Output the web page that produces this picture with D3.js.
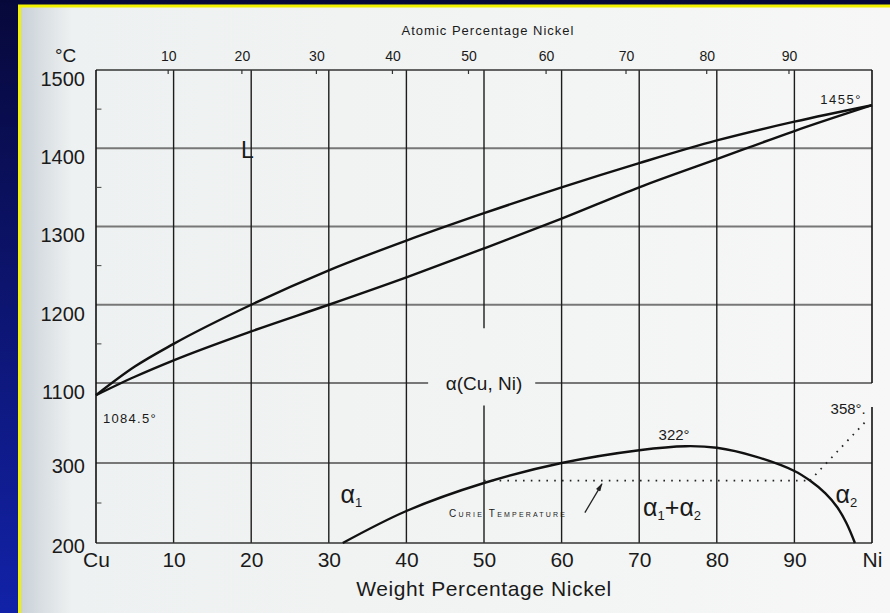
<!DOCTYPE html>
<html lang="en">
<head>
<meta charset="UTF-8">
<title>Cu-Ni phase diagram</title>
<script src="https://d3js.org/d3.v7.min.js"></script>
<style>
    body { margin: 0; background: #0a0d45; }
    svg { display: block; }
    .num { font-family: "Liberation Sans", Arial, sans-serif; fill: #1a1a1a; }
    .txt { font-family: "Liberation Sans", Arial, sans-serif; fill: #1a1a1a; }
    .axis path, .axis line { display: none; }
</style>
</head>
<body>
<div id="chart"></div>
<script>
// weight % Ni -> temperature (degC)
var liquidusWt = [0, 5, 10, 20, 30, 40, 50, 60, 70, 80, 90, 100];
var liquidusT  = [1084.5, 1121, 1150, 1200, 1244, 1282, 1317, 1350, 1381, 1410, 1434, 1455];
var solidusWt  = [0, 5, 10, 20, 30, 40, 50, 60, 70, 80, 90, 100];
var solidusT   = [1084.5, 1108, 1129, 1166, 1200, 1235, 1272, 1310, 1350, 1386, 1422, 1455];

// miscibility gap (alpha1 + alpha2)
var gapWt = [31.8, 40, 50, 60, 70, 76, 80, 85, 90, 92, 94, 95.5, 96.7, 97.8];
var gapT  = [200, 240, 275, 300, 316, 321, 319, 308, 290, 278, 262, 245, 225, 200];

// Curie temperature (dotted)
var curieWt = [50, 92];
var curieT  = [278, 278];
var curieRiseWt = [92, 99.2];
var curieRiseT  = [278, 352];

// axes
var yTicks = [1500, 1400, 1300, 1200, 1100, 300, 200];
var yGrid = [1400, 1300, 1200, 300];
var yMinor = [1450, 1350, 1250, 1150, 250];
var xTicks = [0, 10, 20, 30, 40, 50, 60, 70, 80, 90, 100];
var xTickLabels = ["Cu", "10", "20", "30", "40", "50", "60", "70", "80", "90", "Ni"];
var xGrid = [10, 20, 30, 40, 60, 70, 80, 90];
var atomicLabels = [10, 20, 30, 40, 50, 60, 70, 80, 90];
var atomicWt = [9.3, 18.8, 28.4, 38.2, 48.0, 58.0, 68.3, 78.7, 89.3];

var W = 890, H = 613;

var svg = d3.select("#chart").append("svg")
    .attr("width", W)
    .attr("height", H);

var defs = svg.append("defs");
var bg = defs.append("linearGradient").attr("id", "bg")
    .attr("x1", 0).attr("y1", 0).attr("x2", 0).attr("y2", 1);
bg.append("stop").attr("offset", "0%").attr("stop-color", "#07083a");
bg.append("stop").attr("offset", "100%").attr("stop-color", "#1222a8");

var paper = defs.append("linearGradient").attr("id", "paper")
    .attr("x1", 0).attr("y1", 0).attr("x2", 1).attr("y2", 0);
paper.append("stop").attr("offset", "0%").attr("stop-color", "#c9d1d8");
paper.append("stop").attr("offset", "6%").attr("stop-color", "#eef1f1");
paper.append("stop").attr("offset", "100%").attr("stop-color", "#f6f7f6");

defs.append("marker").attr("id", "arrow")
    .attr("viewBox", "0 0 10 6").attr("refX", 9).attr("refY", 3)
    .attr("markerWidth", 10).attr("markerHeight", 5)
    .attr("markerUnits", "userSpaceOnUse")
    .attr("orient", "auto")
    .append("path").attr("d", "M0,0 L10,3 L0,6 Z").attr("fill", "#222");

svg.append("rect").attr("width", W).attr("height", H).attr("fill", "url(#bg)");
svg.append("rect").attr("x", 20).attr("y", 7).attr("width", W - 20).attr("height", H - 7)
    .attr("fill", "url(#paper)");
// yellow frame
svg.append("path").attr("d", "M19.5," + H + " V6 H" + W)
    .attr("fill", "none").attr("stroke", "#f2f200").attr("stroke-width", 3);

var x = d3.scaleLinear().domain([0, 100]).range([96, 872]);
// broken temperature axis: two linear pieces
var yHi = d3.scaleLinear().domain([1100, 1500]).range([383, 70]);
var yLo = d3.scaleLinear().domain([200, 400]).range([543, 383]);
function y(t) { return t >= 1000 ? yHi(t) : yLo(t); }

var g = svg.append("g");

function seg(x1, t1, x2, t2, stroke, sw) {
    g.append("line")
        .attr("x1", x(x1)).attr("y1", y(t1))
        .attr("x2", x(x2)).attr("y2", y(t2))
        .attr("stroke", stroke).attr("stroke-width", sw);
}

// horizontal grid
yGrid.forEach(function (t) { seg(0, t, 100, t, "#777", 1.8); });
seg(0, 1100, 42.8, 1100, "#777", 1.8);
seg(56.6, 1100, 100, 1100, "#777", 1.8);

// vertical grid (upper piece, lower piece)
xGrid.forEach(function (w) {
    seg(w, 1500, w, 1100, "#1c1c1c", 1.4);
    seg(w, 400, w, 200, "#1c1c1c", 1.4);
});
seg(50, 1500, 50, 1170, "#1c1c1c", 1.4);
seg(50, 372, 50, 200, "#1c1c1c", 1.4);

// frame
seg(0, 1500, 100, 1500, "#333", 1.6);
seg(0, 200, 100, 200, "#333", 1.6);
seg(0, 1500, 0, 1100, "#111", 1.6);
seg(0, 400, 0, 200, "#111", 1.6);
seg(100, 1100, 100, 1500, "#111", 1.6);
seg(100, 200, 100, 370, "#111", 1.6);

// small ticks
yMinor.forEach(function (t) { seg(0, t, 0.7, t, "#444", 1); });
atomicWt.forEach(function (w) {
    g.append("line")
        .attr("x1", x(w)).attr("x2", x(w))
        .attr("y1", y(1500)).attr("y2", y(1500) + 4)
        .attr("stroke", "#333").attr("stroke-width", 1.2);
});

// curves
var line = d3.line()
    .x(function (d) { return x(d[0]); })
    .y(function (d) { return y(d[1]); });

g.append("path")
    .datum(d3.zip(liquidusWt, liquidusT))
    .attr("fill", "none").attr("stroke", "#111").attr("stroke-width", 2.4)
    .attr("d", line.curve(d3.curveMonotoneX));
g.append("path")
    .datum(d3.zip(solidusWt, solidusT))
    .attr("fill", "none").attr("stroke", "#111").attr("stroke-width", 2.4)
    .attr("d", line.curve(d3.curveMonotoneX));
g.append("path")
    .datum(d3.zip(gapWt, gapT))
    .attr("fill", "none").attr("stroke", "#111").attr("stroke-width", 2.4)
    .attr("d", line.curve(d3.curveCatmullRom.alpha(0.5)));
g.append("path")
    .datum(d3.zip(curieWt, curieT))
    .attr("fill", "none").attr("stroke", "#222").attr("stroke-width", 1.8)
    .attr("stroke-dasharray", "1.6,6.2")
    .attr("d", line.curve(d3.curveLinear));
g.append("path")
    .datum(d3.zip(curieRiseWt, curieRiseT))
    .attr("fill", "none").attr("stroke", "#222").attr("stroke-width", 1.8)
    .attr("stroke-dasharray", "1.6,6.2")
    .attr("d", line.curve(d3.curveLinear));

// y labels: one axis per piece of the broken scale
var yAxisHi = svg.append("g").attr("class", "axis")
    .attr("transform", "translate(" + (x(0) - 11) + ",9)")
    .call(d3.axisLeft(yHi).tickValues(yTicks.filter(function (t) { return t >= 1000; }))
        .tickSize(0).tickPadding(0).tickFormat(d3.format("d")));
var yAxisLo = svg.append("g").attr("class", "axis")
    .attr("transform", "translate(" + (x(0) - 11) + ",3)")
    .call(d3.axisLeft(yLo).tickValues(yTicks.filter(function (t) { return t < 1000; }))
        .tickSize(0).tickPadding(0).tickFormat(d3.format("d")));
svg.selectAll(".axis text").attr("class", "num").style("font-size", "20px");

var xAxis = svg.append("g").attr("class", "axis")
    .attr("transform", "translate(0," + (y(200) + 5) + ")")
    .call(d3.axisBottom(x).tickValues(xTicks).tickSize(0).tickPadding(4)
        .tickFormat(function (d, i) { return xTickLabels[i]; }));
xAxis.selectAll("text").attr("class", "num").style("font-size", "21px");

var topAxis = svg.append("g").attr("class", "axis")
    .attr("transform", "translate(0," + (y(1500) - 9) + ")")
    .call(d3.axisTop(x).tickValues(atomicWt).tickSize(0).tickPadding(0)
        .tickFormat(function (d, i) { return atomicLabels[i]; }));
topAxis.selectAll("text").attr("class", "num").style("font-size", "14px");

svg.append("text").attr("class", "num")
    .attr("x", 55).attr("y", 62).style("font-size", "19px").text("°C");

svg.append("text").attr("class", "txt")
    .attr("x", (x(0) + x(100)) / 2).attr("y", 596)
    .attr("text-anchor", "middle").style("font-size", "21px").style("letter-spacing", "0.6px")
    .text("Weight Percentage Nickel");

svg.append("text").attr("class", "txt")
    .attr("x", 488).attr("y", 35)
    .attr("text-anchor", "middle").style("font-size", "13px").style("letter-spacing", "1px")
    .text("Atomic Percentage Nickel");

// annotations (placed in data units)
function label(w, t, str, size, anchor, extra) {
    var el = g.append("text").attr("class", "txt")
        .attr("x", x(w)).attr("y", y(t))
        .attr("text-anchor", anchor || "start")
        .style("font-size", size + "px")
        .text(str);
    if (extra) extra(el);
    return el;
}

label(18.7, 1387, "L", 23);
label(50, 1100, "α(Cu, Ni)", 19, "middle", function (el) { el.attr("dy", "0.35em"); });
label(0.9, 1049, "1084.5°", 13, "start", function (el) { el.style("letter-spacing", "1.3px"); });
label(98.7, 1457, "1455°", 13, "end", function (el) { el.style("letter-spacing", "1.5px"); });
label(74.5, 329, "322°", 15, "middle");
label(99.2, 361, "358°.", 15, "end");

function alpha(w, t, parts) {
    var el = g.append("text").attr("class", "txt")
        .attr("x", x(w)).attr("y", y(t))
        .style("font-size", "25px");
    parts.forEach(function (p) {
        el.append("tspan").text(p[0]).style("font-size", p[1] ? "13px" : null)
            .attr("dy", p[1] ? "4" : (p[2] ? "-4" : null));
    });
}
alpha(31.5, 250, [["α"], ["1", true]]);
alpha(70.5, 234, [["α"], ["1", true], ["+", false, true], ["α"], ["2", true]]);
alpha(95.3, 250, [["α"], ["2", true]]);

label(45.5, 232, "Curie Temperature", 10, "start", function (el) {
    el.style("font-variant", "small-caps").style("letter-spacing", "2.2px");
});

g.append("line")
    .attr("x1", x(63)).attr("y1", y(238))
    .attr("x2", x(65.2)).attr("y2", y(274))
    .attr("stroke", "#222").attr("stroke-width", 1.3)
    .attr("marker-end", "url(#arrow)");
</script>
</body>
</html>
